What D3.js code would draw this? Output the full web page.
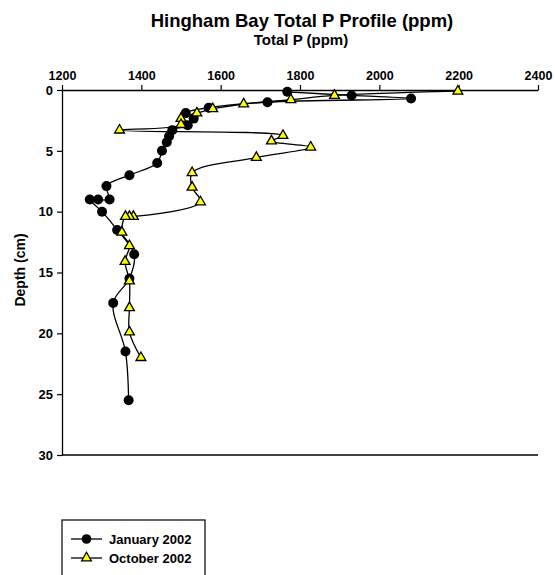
<!DOCTYPE html>
<html>
<head>
  <title>Hingham Bay Total P Profile (ppm)</title>
  <script src="https://d3js.org/d3.v7.min.js"></script>
  <style>
    body {
      background-color: white;
      margin: 0;
      padding: 0;
      overflow: hidden;
    }
    svg {
      font-family: "Liberation Sans", Arial, sans-serif;
      font-weight: bold;
    }
  </style>
</head>
<body>
  <svg width="555" height="575"></svg>

  <script>
    // January 2002 (circles): depth in cm, total P in ppm
    const janDepth = [0.15, 0.45, 0.7, 1.0, 1.45, 1.9, 2.35, 2.9, 3.3, 3.8, 4.3, 5.0, 6.0, 7.0, 7.9, 9.0, 9.0, 9.0, 10.0, 11.5, 13.5, 15.5, 17.5, 21.5, 25.5];
    const janP     = [1768, 1930, 2080, 1718, 1570, 1512, 1532, 1517, 1478, 1470, 1464, 1452, 1440, 1370, 1312, 1320, 1291, 1270, 1301, 1339, 1382, 1370, 1329, 1360, 1368];

    // October 2002 (triangles)
    const octDepth = [0.1, 0.45, 0.8, 1.15, 1.55, 1.9, 2.35, 2.85, 3.3, 3.75, 4.2, 4.7, 5.55, 6.8, 8.0, 9.2, 10.4, 10.4, 10.4, 11.7, 12.8, 14.1, 15.7, 17.9, 19.9, 22.0];
    const octP     = [2198, 1887, 1777, 1658, 1580, 1540, 1500, 1500, 1345, 1757, 1728, 1827, 1690, 1528, 1528, 1549, 1380, 1370, 1360, 1351, 1370, 1359, 1370, 1370, 1370, 1399];

    const xTicks = [1200, 1400, 1600, 1800, 2000, 2200, 2400];
    const yTicks = [0, 5, 10, 15, 20, 25, 30];
    const seriesNames = ["January 2002", "October 2002"];

    const svg = d3.select("svg"),
          margin = { top: 90, left: 62 },
          width = 476,
          height = 365,
          g = svg.append("g").attr("transform", "translate(" + margin.left + "," + margin.top + ")");

    const xScale = d3.scaleLinear().domain([1200, 2400]).range([0, width]);
    const yScale = d3.scaleLinear().domain([0, 30]).range([0, height]);

    // top axis
    const xAxis = g.append("g")
        .call(d3.axisTop(xScale).tickValues(xTicks).tickFormat(d3.format("d"))
          .tickSize(5).tickPadding(5).tickSizeOuter(0));
    xAxis.selectAll("text").attr("font-size", "12.5px").attr("font-family", "Liberation Sans, Arial").attr("font-weight", "bold");

    // left axis
    const yAxis = g.append("g")
        .call(d3.axisLeft(yScale).tickValues(yTicks).tickSize(5).tickPadding(4).tickSizeOuter(0));
    yAxis.selectAll("text").attr("font-size", "13px").attr("font-family", "Liberation Sans, Arial").attr("font-weight", "bold");

    g.selectAll(".domain").attr("stroke-width", 1.3);
    g.selectAll(".tick line").attr("stroke-width", 1.2);

    // bottom line of the plot
    g.append("line")
        .attr("x1", 0).attr("x2", width)
        .attr("y1", height).attr("y2", height)
        .attr("stroke", "black")
        .attr("stroke-width", 1.3);

    const line = d3.line()
        .x(d => xScale(d.p))
        .y(d => yScale(d.depth))
        .curve(d3.curveCatmullRom.alpha(0.5));

    const jan = janDepth.map((d, i) => ({ depth: d, p: janP[i] }));
    const oct = octDepth.map((d, i) => ({ depth: d, p: octP[i] }));

    [jan, oct].forEach(data => {
      g.append("path")
          .datum(data)
          .attr("d", line)
          .attr("fill", "none")
          .attr("stroke", "black")
          .attr("stroke-width", 1.3);
    });

    g.selectAll(".jan")
      .data(jan)
      .enter().append("circle")
        .attr("class", "jan")
        .attr("cx", d => xScale(d.p))
        .attr("cy", d => yScale(d.depth))
        .attr("r", 5)
        .attr("fill", "black");

    const tri = d3.symbol().type(d3.symbolTriangle).size(42);
    g.selectAll(".oct")
      .data(oct)
      .enter().append("path")
        .attr("class", "oct")
        .attr("d", tri)
        .attr("transform", d => "translate(" + xScale(d.p) + "," + yScale(d.depth) + ")")
        .attr("fill", "#ffff00")
        .attr("stroke", "black")
        .attr("stroke-width", 1.3);

    // titles
    svg.append("text")
      .attr("x", 302)
      .attr("y", 27)
      .attr("text-anchor", "middle")
      .attr("font-size", "18.5px")
      .text("Hingham Bay Total P Profile (ppm)");

    svg.append("text")
      .attr("x", 301)
      .attr("y", 45)
      .attr("text-anchor", "middle")
      .attr("font-size", "15px")
      .text("Total P (ppm)");

    svg.append("text")
      .attr("transform", "translate(25,270) rotate(-90)")
      .attr("text-anchor", "middle")
      .attr("font-size", "14px")
      .text("Depth (cm)");

    // legend
    const legend = svg.append("g").attr("transform", "translate(62,520)");
    legend.append("rect")
        .attr("x", 0).attr("y", 0)
        .attr("width", 143).attr("height", 80)
        .attr("fill", "white")
        .attr("stroke", "black")
        .attr("stroke-width", 1.2);

    seriesNames.forEach((name, i) => {
      const row = legend.append("g").attr("transform", "translate(0," + (19 + i * 19) + ")");
      row.append("line")
          .attr("x1", 9).attr("x2", 40)
          .attr("stroke", "black").attr("stroke-width", 1.3);
      if (i === 0) {
        row.append("circle").attr("cx", 24.5).attr("r", 4.8).attr("fill", "black");
      } else {
        row.append("path").attr("d", tri).attr("transform", "translate(24.5,0)")
            .attr("fill", "#ffff00").attr("stroke", "black").attr("stroke-width", 1.2);
      }
      row.append("text")
          .attr("x", 47)
          .attr("y", 5)
          .attr("font-size", "13px")
          .text(name);
    });
  </script>
</body>
</html>
